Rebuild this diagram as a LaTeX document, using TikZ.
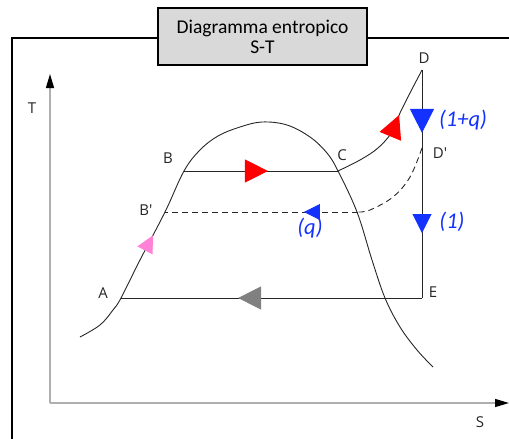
\documentclass[tikz,border=0pt]{standalone}
\usepackage{fontspec}
\setmainfont{Carlito}
\newfontfamily\ptfont{Open Sans}
\usetikzlibrary{arrows.meta,decorations.markings}

\definecolor{flowblue}{RGB}{20,50,255}
\definecolor{flowpink}{RGB}{255,130,215}
\definecolor{axisgray}{RGB}{175,175,175}

\begin{document}
\begin{tikzpicture}[
        x=1pt, y=-1pt,
        curve/.style={line width=0.9pt, black!85},
        dashcurve/.style={curve, dash pattern=on 6pt off 4pt},
        axis/.style={line width=1.3pt, axisgray, -{Triangle[length=14pt, width=8pt, color=black]}},
        frameline/.style={line width=2pt, black},
        titlebox/.style={draw=black, line width=1.8pt, fill=black!15, minimum width=209pt, minimum height=57pt,
                         inner sep=0pt, align=center, font=\fontsize{19.5}{20}\selectfont},
        ptlabel/.style={font=\ptfont\fontsize{15}{15}\selectfont, text=black!85, inner sep=0pt},
        flowlabel/.style={font=\itshape\fontsize{22.5}{22.5}\selectfont, text=flowblue, inner sep=0pt},
        flowtip/.style n args={3}{postaction={decorate, decoration={markings,
            mark=at position #1 with {\arrow{Triangle[length=#2, width=#2, color=#3]}}}}}
    ]
    \useasboundingbox (0,0) rectangle (509,439);

    % ==========================================
    % FRAME + TITLE
    % ==========================================
    \draw[frameline] (12,439) -- (12,38) -- (509,38);
    \node[titlebox] (title) at (262.5,36.5) {Diagramma entropico\\S-T};

    % ==========================================
    % AXES
    % ==========================================
    \coordinate (O) at (50,403);
    \coordinate (Ttip) at (50,74);
    \coordinate (Stip) at (509,403);
    \draw[axis] (O) -- (Ttip);
    \draw[axis] (O) -- (Stip);
    \node[ptlabel] (Tlab) at (32,108) {T};
    \node[ptlabel] (Slab) at (480,422) {S};

    % ==========================================
    % CYCLE POINTS
    % ==========================================
    \coordinate (A) at (121,298);
    \coordinate (B) at (184,171);
    \coordinate (Bp) at (165,212);
    \coordinate (C) at (338,171);
    \coordinate (D) at (422,70);
    \coordinate (Dp) at (422,148);
    \coordinate (Dc) at (358,212); % end of dashed bend
    \coordinate (E) at (422,298);

    \node[ptlabel] (Alab) at (103,293) {A};
    \node[ptlabel] (Blab) at (168,158) {B};
    \node[ptlabel] (Bplab) at (146,210) {B'};
    \node[ptlabel] (Clab) at (342,155) {C};
    \node[ptlabel] (Dlab) at (424,58) {D};
    \node[ptlabel] (Dplab) at (440,153) {D'};
    \node[ptlabel] (Elab) at (433,292) {E};

    % saturation dome
    \draw[curve, flowtip={128pt}{17pt}{flowpink}] plot[smooth, tension=0.6] coordinates {
        (80,337) (100,325) (113,310) (121,298) (140,260) (165,212) (184,171)
        (200,150) (218,136) (240,127) (262,122) (287,125) (310,137) (327,153)
        (338,171) (357,212) (372,260) (385,298) (400,327) (417,350) (433,367)};

    % B -> C and C -> D
    \draw[curve, flowtip={0.545}{23pt}{red}] (B) -- (C);
    \draw[curve, flowtip={86pt}{23pt}{red}] plot[smooth, tension=0.6] coordinates {
        (338,171) (360,160) (378,148) (392,132) (400,113) (410,93) (422,70)};

    % D -> E, split flow
    \draw[curve, flowtip={0.276}{24pt}{flowblue}, flowtip={0.715}{19pt}{flowblue}] (D) -- (E);
    \draw[curve, flowtip={0.611}{23pt}{gray}] (E) -- (A);

    % D' -> B' (q)
    \draw[dashcurve] plot[smooth, tension=0.6] coordinates {
        (422,148) (410,177) (393,197) (370,210) (358,212)};
    \draw[dashcurve, flowtip={0.28}{16pt}{flowblue}] (Dc) -- (Bp);

    \node[flowlabel] (lab1q) at (463,120) {(1+q)};
    \node[flowlabel] (lab1) at (452,222) {(1)};
    \node[flowlabel] (labq) at (310,228) {(q)};

\end{tikzpicture}
\end{document}
